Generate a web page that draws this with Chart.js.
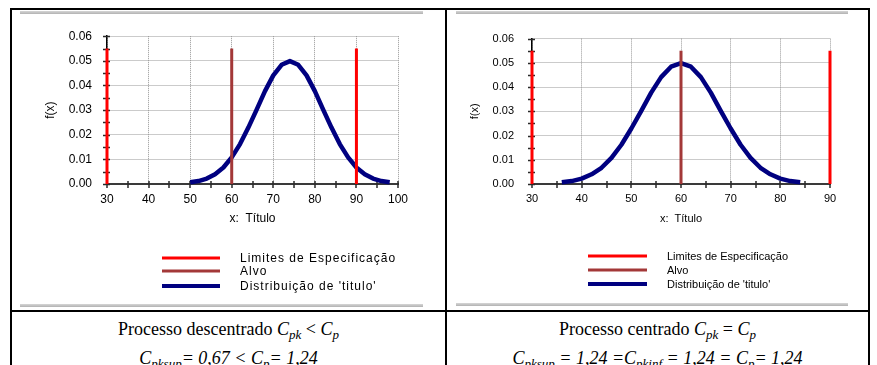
<!DOCTYPE html>
<html>
<head>
<meta charset="utf-8">
<script src="https://cdn.jsdelivr.net/npm/chart.js@4.4.0/dist/chart.umd.min.js"></script>
<style>
  html, body { margin: 0; padding: 0; background: #fff; }
  #page { position: relative; width: 877px; height: 365px; overflow: hidden; }
  .rule { position: absolute; background: #000; }
  .shade { position: absolute; height: 3px; background: linear-gradient(#d6d6d6, #b2b2b2); }
  .plot { position: absolute; top: 14px; }
  .cap { position: absolute; font-family: "Liberation Serif", "Times New Roman", serif; font-size: 18px;
         line-height: 20px; text-align: center; white-space: nowrap; color: #000; }
  .cap sub { font-size: 13px; vertical-align: -4px; line-height: 0; }
</style>
</head>
<body>
<div id="page">
  <!-- table frame -->
  <div class="rule" style="left:10px;top:8px;width:860px;height:2px"></div>
  <div class="rule" style="left:10px;top:8px;width:2px;height:357px"></div>
  <div class="rule" style="left:445px;top:8px;width:2px;height:357px"></div>
  <div class="rule" style="left:868px;top:8px;width:2px;height:357px"></div>
  <div class="rule" style="left:10px;top:310px;width:860px;height:2px"></div>

  <div class="shade" style="left:20px;top:11px;width:403px"></div>
  <div class="shade" style="left:456px;top:11px;width:392px"></div>
  <div class="shade" style="left:20px;top:304px;width:403px"></div>
  <div class="shade" style="left:456px;top:303px;width:392px"></div>

  <canvas id="offCentre" class="plot" style="left:20px" width="403" height="288"></canvas>
  <canvas id="centred" class="plot" style="left:456px" width="392" height="288"></canvas>

  <div class="cap" style="left:12px;width:433px;top:319px">Processo descentrado <i>C<sub>pk</sub></i> &lt; <i>C<sub>p</sub></i></div>
  <div class="cap" style="left:12px;width:433px;top:348px"><i>C<sub>pksup</sub>= 0,67 &lt; C<sub>p</sub>= 1,24</i></div>
  <div class="cap" style="left:447px;width:421px;top:319px">Processo centrado <i>C<sub>pk</sub></i> = <i>C<sub>p</sub></i></div>
  <div class="cap" style="left:447px;width:421px;top:348px"><i>C<sub>pksup</sub> = 1,24 =C<sub>pkinf</sub> = 1,24 = C<sub>p</sub>= 1,24</i></div>
</div>

<script>
// f(x) of the off-centre process
const xOff = [50, 52, 54, 56, 58, 60, 62, 64, 66, 68, 70, 72, 74, 76, 78, 80, 82, 84, 86, 88, 90, 92, 94, 96, 98];
const fOff = [0.0007, 0.0012, 0.0022, 0.0040, 0.0067, 0.0108, 0.0162, 0.0229, 0.0302, 0.0377, 0.0441, 0.0484, 0.0499,
              0.0484, 0.0441, 0.0377, 0.0302, 0.0229, 0.0162, 0.0108, 0.0067, 0.0040, 0.0022, 0.0012, 0.0007];

// f(x) of the centred process
const xCen = [36, 38, 40, 42, 44, 46, 48, 50, 52, 54, 56, 58, 60, 62, 64, 66, 68, 70, 72, 74, 76, 78, 80, 82, 84];
const fCen = [0.0007, 0.0012, 0.0022, 0.0040, 0.0067, 0.0108, 0.0162, 0.0229, 0.0302, 0.0377, 0.0441, 0.0484, 0.0499,
              0.0484, 0.0441, 0.0377, 0.0302, 0.0229, 0.0162, 0.0108, 0.0067, 0.0040, 0.0022, 0.0012, 0.0007];

const specLimits = [30, 90];
const targetValue = [60];
const markerTop = 0.055;

const yTicks = [0, 0.01, 0.02, 0.03, 0.04, 0.05, 0.06];
const xTicksOff = [30, 40, 50, 60, 70, 80, 90, 100];
const xTicksCen = [30, 40, 50, 60, 70, 80, 90];

const seriesNames = ['Limites de Especificação', 'Alvo', "Distribuição de 'titulo'"];
const xTitle = 'x:  Título';
const yTitle = 'f(x)';

Chart.defaults.font.family = '"Liberation Sans", Arial, sans-serif';
Chart.defaults.color = '#000';

// vertical bars from 0 up to markerTop, one per x value
function verticals(xs) {
  const pts = [];
  xs.forEach(x => pts.push({ x, y: 0 }, { x, y: markerTop }, { x, y: null }));
  return pts;
}

// small ticks crossing both axes (every 5 on x, every 0.005 on y)
const crossTicks = {
  id: 'crossTicks',
  beforeDatasetsDraw(chart) {
    const { ctx, scales: { x, y } } = chart;
    const y0 = y.getPixelForValue(0), x0 = x.getPixelForValue(x.min);
    ctx.save();
    ctx.strokeStyle = '#2a2a2a';
    ctx.lineWidth = 1.5;
    ctx.beginPath();
    for (let v = x.min; v <= x.max + 0.001; v += 5) {
      const px = Math.round(x.getPixelForValue(v));
      ctx.moveTo(px, y0 - 3);
      ctx.lineTo(px, y0 + 4);
    }
    for (let k = 0; k <= 12; k++) {
      const py = Math.round(y.getPixelForValue(k * 0.005)) + 0.5;
      ctx.moveTo(x0 - 4, py);
      ctx.lineTo(x0 + 3, py);
    }
    ctx.stroke();
    ctx.restore();
  }
};

// legend block under the x title: sample line + label, one row each
function legendBlock(st) {
  return {
    id: 'legendBlock',
    afterDraw(chart) {
      const { ctx } = chart;
      ctx.save();
      ctx.font = st.size + 'px "Liberation Sans", Arial, sans-serif';
      ctx.letterSpacing = st.spacing;
      ctx.textBaseline = 'middle';
      ctx.fillStyle = '#000';
      chart.data.datasets.forEach((ds, i) => {
        const yy = st.rows[i];
        ctx.strokeStyle = ds.borderColor;
        ctx.lineWidth = Math.min(ds.borderWidth, 4);
        ctx.beginPath();
        ctx.moveTo(st.x1, yy);
        ctx.lineTo(st.x2, yy);
        ctx.stroke();
        ctx.fillText(ds.label, st.tx, yy + 1);
      });
      ctx.restore();
    }
  };
}

function makeChart(id, xs, fs, xTicks, st) {
  const font = { size: st.size };
  return new Chart(document.getElementById(id), {
    type: 'line',
    data: {
      datasets: [
        { label: seriesNames[0], data: verticals(specLimits), borderColor: '#ff0000', borderWidth: 3, clip: false },
        { label: seriesNames[1], data: verticals(targetValue), borderColor: '#a33838', borderWidth: 3, clip: false },
        { label: seriesNames[2], data: xs.map((x, i) => ({ x, y: fs[i] })), borderColor: '#000080', borderWidth: 4.5, clip: false }
      ]
    },
    options: {
      responsive: false,
      animation: false,
      events: [],
      elements: { point: { radius: 0 }, line: { borderJoinStyle: 'round', tension: 0 } },
      layout: { padding: { top: 22, right: st.padRight, bottom: 68, left: 0 } },
      plugins: { legend: { display: false }, tooltip: { enabled: false } },
      scales: {
        x: {
          type: 'linear', min: xTicks[0], max: xTicks[xTicks.length - 1],
          afterFit: s => { s.height = 50; },
          afterBuildTicks: s => { s.ticks = xTicks.map(v => ({ value: v })); },
          ticks: { padding: st.xTickPad, font, color: '#000' },
          grid: { color: '#979797', lineWidth: 1, drawTicks: false },
          border: { color: '#3a3a3a', width: 2, dash: [1, 1] },
          title: { display: true, text: xTitle, font, color: '#000', padding: { top: 0, bottom: 8 } }
        },
        y: {
          type: 'linear', min: 0, max: 0.06,
          afterFit: s => { s.width = st.yWidth; },
          afterBuildTicks: s => { s.ticks = yTicks.map(v => ({ value: v })); },
          ticks: { padding: st.yTickPad, font, color: '#000', callback: v => v.toFixed(2) },
          grid: { color: '#979797', lineWidth: 1, drawTicks: false },
          border: { color: '#000', width: 1.5, dash: [1, 1] },
          title: { display: true, text: yTitle, font, color: '#000', padding: { top: st.yTitlePad, bottom: 0 } }
        }
      }
    },
    plugins: [crossTicks, legendBlock(st.legend)]
  });
}

makeChart('offCentre', xOff, fOff, xTicksOff, {
  size: 12, padRight: 25, yWidth: 87, yTickPad: 15, xTickPad: 8, yTitlePad: 23,
  legend: { size: 12, spacing: '1px', x1: 142, x2: 200, tx: 220, rows: [244, 257, 272] }
});

makeChart('centred', xCen, fCen, xTicksCen, {
  size: 11, padRight: 18, yWidth: 76, yTickPad: 18, xTickPad: 8, yTitlePad: 12,
  legend: { size: 11, spacing: '0px', x1: 132, x2: 191, tx: 211, rows: [242, 256, 270] }
});
</script>
</body>
</html>
